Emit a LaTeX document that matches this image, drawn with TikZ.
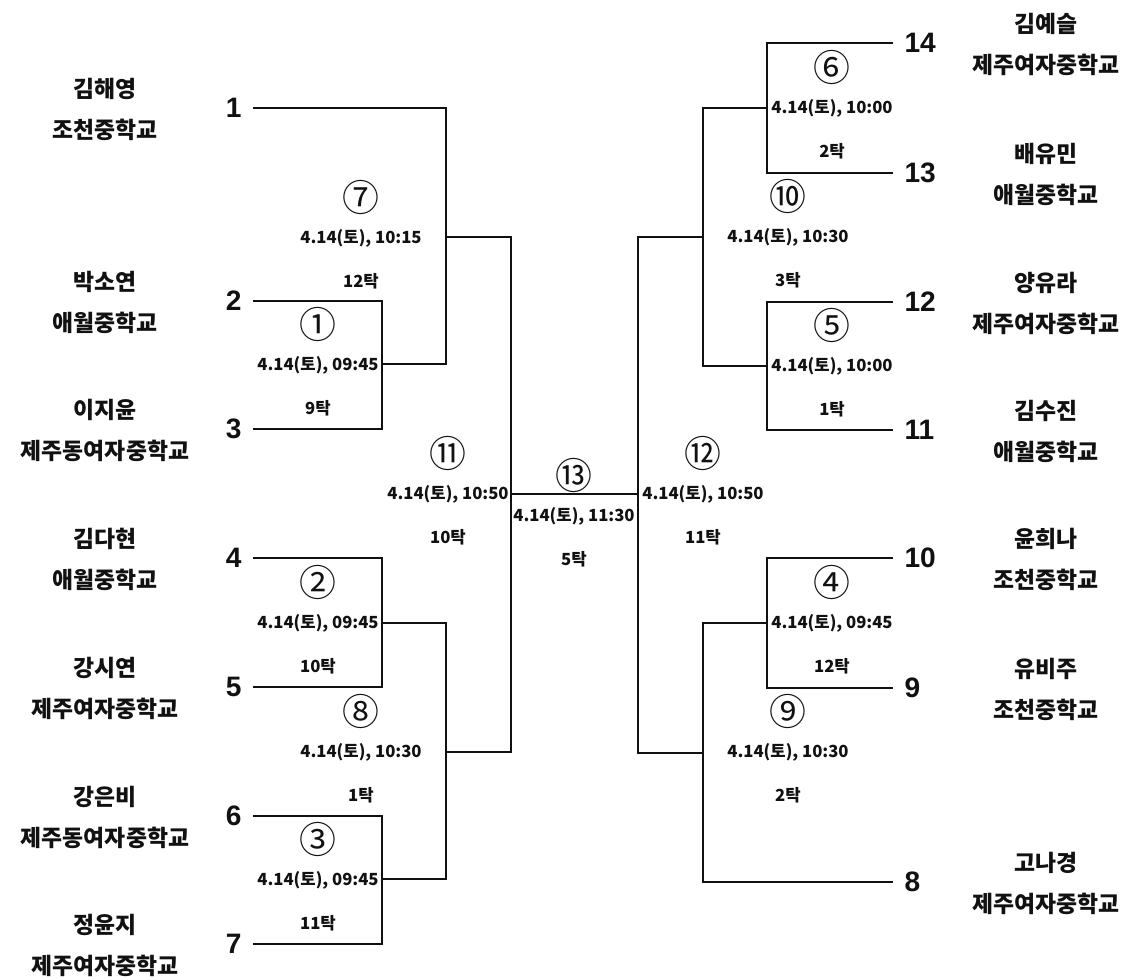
\documentclass[tikz,border=0pt]{standalone}
\usepackage{fontspec}
\setmainfont{Noto Sans CJK KR}
\newfontfamily\numfont{Liberation Sans}
\usepackage{tikz}
\usetikzlibrary{positioning,calc}
\definecolor{ink}{HTML}{111111}

\begin{document}
\begin{tikzpicture}[x=0.02cm,y=-0.02cm,line width=1.1pt,draw=ink,text=ink,
  seed/.style={font=\numfont\bfseries\fontsize{16}{18}\selectfont,inner xsep=6pt},
  player/.style={font=\bfseries\fontsize{13}{15}\selectfont},
  circ/.style={font=\fontsize{21}{23}\selectfont},
  info/.style={font=\bfseries\fontsize{9.5}{11}\selectfont}]
\useasboundingbox (0,0) rectangle (1129,978);
\foreach \n/\y/\a/\b in {1/108/김해영/조천중학교,2/301/박소연/애월중학교,3/429/이지윤/제주동여자중학교,4/558/김다현/애월중학교,5/687/강시연/제주여자중학교,6/816/강은비/제주동여자중학교,7/944/정윤지/제주여자중학교} {
  \node[seed,anchor=east] (s\n) at (253,\y) {\n};
  \node[player] (p\n) at (105,\y-19) {\a};
  \node[player] (h\n) at (105,\y+22) {\b};
}
\foreach \n/\y/\a/\b in {14/43/김예슬/제주여자중학교,13/173/배유민/애월중학교,12/302/양유라/제주여자중학교,11/430/김수진/애월중학교,10/558/윤희나/조천중학교,9/688/유비주/조천중학교,8/882/고나경/제주여자중학교} {
  \node[seed,anchor=west] (s\n) at (893,\y) {\n};
  \node[player] (p\n) at (1046,\y-19) {\a};
  \node[player] (h\n) at (1046,\y+22) {\b};
}
\coordinate (j1) at (382,364);
\coordinate (j2) at (382,623);
\coordinate (j3) at (382,879);
\coordinate (j7) at (446,237);
\coordinate (j8) at (446,752);
\coordinate (j11) at (511,494);
\coordinate (j6) at (767,108);
\coordinate (j5) at (767,366);
\coordinate (j4) at (767,623);
\coordinate (j10) at (703,237);
\coordinate (j9) at (703,753);
\coordinate (j12) at (638,494);
\draw (s2.east) -| (j1) |- (s3.east);
\draw (s4.east) -| (j2) |- (s5.east);
\draw (s6.east) -| (j3) |- (s7.east);
\draw (j1) -| (j7) |- (s1.east);
\draw (j2) -| (j8) |- (j3);
\draw (j7) -| (j11) |- (j8);
\draw (s14.west) -| (j6) |- (s13.west);
\draw (s12.west) -| (j5) |- (s11.west);
\draw (s10.west) -| (j4) |- (s9.west);
\draw (j6) -| (j10) |- (j5);
\draw (j4) -| (j9) |- (s8.west);
\draw (j10) -| (j12) |- (j9);
\draw (j11) -- (j12);
\foreach \m/\x/\y/\cn/\tm/\tb in {1/318/365/①/09:45/9,7/361/238/⑦/10:15/12,2/318/623/②/09:45/10,8/361/752/⑧/10:30/1,3/318/880/③/09:45/11,11/448/494/⑪/10:50/10,13/574/516/⑬/11:30/5,12/703/494/⑫/10:50/11,6/832/108/⑥/10:00/2,10/788/237/⑩/10:30/3,5/832/366/⑤/10:00/1,4/832/623/④/09:45/12,9/788/752/⑨/10:30/2} {
  \node[circ] (c\m) at (\x,\y-41) {\cn};
  \node[info] (d\m) at (\x,\y) {4.14(토), \tm};
  \node[info] (b\m) at (\x,\y+43) {\tb 탁};
}
\end{tikzpicture}
\end{document}
